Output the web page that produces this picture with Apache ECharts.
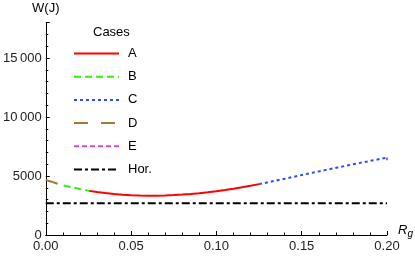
<!DOCTYPE html>
<html>
<head>
<meta charset="utf-8">
<script src="https://cdn.jsdelivr.net/npm/echarts@6/dist/echarts.min.js"></script>
<style>html,body{margin:0;padding:0;background:#fff}#c{width:415px;height:256px}</style>
</head>
<body>
<div id="c"></div>
<script>
// Data
var caseD = [[0, 4660], [0.002, 4580], [0.004, 4490], [0.007, 4340]];
var caseB = [[0.0105, 4190], [0.015, 4050], [0.02, 3900], [0.0255, 3740]];
var caseA = [[0.0255, 3740], [0.03, 3640], [0.035, 3550], [0.04, 3470], [0.045, 3410], [0.05, 3370],
  [0.055, 3340], [0.06, 3330], [0.065, 3336], [0.07, 3353], [0.075, 3383], [0.08, 3424], [0.085, 3476],
  [0.09, 3541], [0.095, 3617], [0.1, 3704], [0.105, 3804], [0.11, 3915], [0.115, 4038], [0.12, 4172], [0.125, 4310]];
var caseC = [[0.125, 4310], [0.14, 4770], [0.16, 5390], [0.18, 5990], [0.2, 6560]];
var caseE = [[0.2, 6560], [0.2, 6330]];
var horValue = 2700;
var horLine = [[0, horValue], [0.2, horValue]];
var xTicks = [0, 0.05, 0.1, 0.15, 0.2];
var yTicks = [0, 5000, 10000, 15000];
var legendNames = ['A', 'B', 'C', 'D', 'E', 'Hor.'];

var font = 'Liberation Sans, Arial, sans-serif';
var chart = echarts.init(document.getElementById('c'), null, {renderer: 'canvas'});
function fmtY(v) {
  if (v >= 10000) { var s = String(v); return s.slice(0, s.length - 3) + '\u2009' + s.slice(-3); }
  return String(v);
}
function line(name, data, color, type, z) {
  return {
    name: name, type: 'line', data: data, showSymbol: false, symbol: 'none', smooth: false,
    lineStyle: {color: color, width: 2, type: type}, itemStyle: {color: color}, z: z || 2,
    animation: false, silent: true
  };
}
chart.setOption({
  animation: false,
  grid: {left: 44, right: 28, top: 22.6, bottom: 21, containLabel: false},
  title: {text: 'Cases', left: 93, top: 26, padding: 0, textStyle: {fontFamily: font, fontSize: 13, fontWeight: 'normal', color: '#000'}},
  legend: {
    data: legendNames, orient: 'vertical', left: 73, top: 47, padding: 0, itemWidth: 45, itemHeight: 14, itemGap: 10.2,
    itemStyle: {opacity: 0},
    textStyle: {fontFamily: font, fontSize: 13, color: '#000', padding: [0, 0, 0, 4]},
    selectedMode: false
  },
  xAxis: {
    type: 'value', min: xTicks[0], max: xTicks[xTicks.length - 1], interval: 0.05,
    axisLine: {show: true, lineStyle: {color: '#000', width: 1}},
    axisTick: {show: true, inside: true, length: 4, lineStyle: {color: '#000'}},
    minorTick: {show: true, splitNumber: 5, length: 2.5, lineStyle: {color: '#000'}},
    splitLine: {show: false},
    axisLabel: {fontFamily: font, fontSize: 13, color: '#222', margin: 5, formatter: function (v) { return v.toFixed(2); }}
  },
  yAxis: {
    type: 'value', min: 0, max: 18000, interval: 5000,
    name: 'W(J)', nameLocation: 'end', nameGap: 8,
    nameTextStyle: {fontFamily: font, fontSize: 13, color: '#000', align: 'center'},
    axisLine: {show: true, lineStyle: {color: '#000', width: 1}},
    axisTick: {show: true, inside: true, length: 4, lineStyle: {color: '#000'}},
    minorTick: {show: true, splitNumber: 5, length: 2.5, lineStyle: {color: '#000'}},
    splitLine: {show: false},
    axisLabel: {fontFamily: font, fontSize: 13, color: '#222', margin: 4, showMaxLabel: false, formatter: fmtY}
  },
  graphic: [{
    type: 'text', left: 398, top: 224,
    style: {
      text: '{r|R}{g|g}',
      rich: {
        r: {fontFamily: font, fontSize: 13, fontStyle: 'italic', fill: '#000'},
        g: {fontFamily: font, fontSize: 10, fontStyle: 'italic', fill: '#000', padding: [7, 0, 0, 0]}
      }
    }
  }],
  series: [
    line('Hor.', horLine, '#000000', [8, 3, 3, 3], 1),
    line('D', caseD, '#a6773f', [14, 13], 2),
    line('B', caseB, '#33ee11', [7, 4], 2),
    line('A', caseA, '#ff0000', 'solid', 3),
    line('C', caseC, '#2e4bff', [3, 3], 2),
    line('E', caseE, '#c34cf5', [5, 3], 2)
  ]
});
</script>
</body>
</html>
